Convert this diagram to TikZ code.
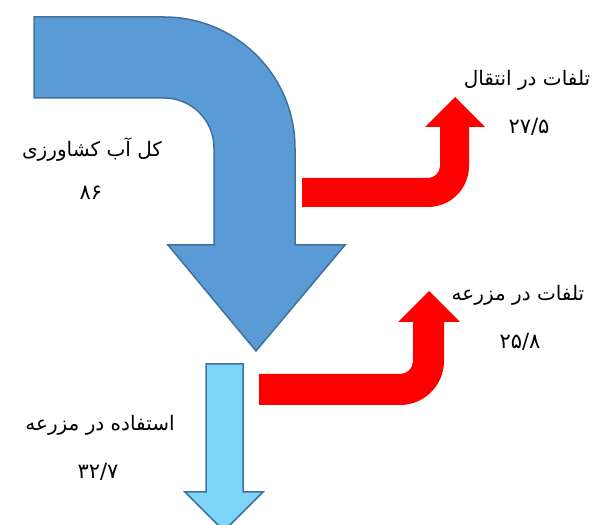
\documentclass[tikz,border=0pt]{standalone}
\usepackage{fontspec}
\TeXXeTstate=1
\newfontfamily\arabicfont[Script=Arabic]{DejaVu Sans}
\newfontfamily\numfont{DejaVu Sans}
\definecolor{flowblue}{HTML}{5B9BD5}
\definecolor{edgeblue}{HTML}{41719C}
\definecolor{useblue}{HTML}{7DD5F7}

\tikzset{
  mainflow/.style={fill=flowblue, draw=edgeblue, line width=1.5pt, line join=miter},
  useflow/.style={fill=useblue, draw=edgeblue, line width=1.5pt},
  lossflow/.style={fill=red},
  fa/.style={font=\arabicfont\fontsize{20}{24}\selectfont},
  num/.style={font=\numfont\fontsize{21}{24}\selectfont}
}

\begin{document}
\begin{tikzpicture}[x=1pt, y=1pt]

\useasboundingbox (0,0) rectangle (592,525);

\draw[mainflow] (34,508) -- (164,508) arc[start angle=90, end angle=0, radius=131pt]
  -- (295,280) -- (345,280) -- (256,174) -- (168,280) -- (214,280) -- (214,377)
  arc[start angle=0, end angle=90, radius=50pt] -- (34,427) -- cycle;

\fill[lossflow] (302,318) -- (428,318) arc[start angle=-90, end angle=0, radius=41pt]
  -- (469,398) -- (485,398) -- (455,428) -- (425,398) -- (440,398) -- (440,359)
  arc[start angle=0, end angle=-90, radius=12pt] -- (302,347) -- cycle;

\fill[lossflow] (259,120) -- (400,120) arc[start angle=-90, end angle=0, radius=44pt]
  -- (444,203) -- (460,203) -- (429,234) -- (398,203) -- (413,203) -- (413,164)
  arc[start angle=0, end angle=-90, radius=13pt] -- (259,151) -- cycle;

\draw[useflow] (206,161) -- (243,161) -- (243,33) -- (263,33) -- (224,-6)
  -- (185,33) -- (206,33) -- cycle;

\node (total) at (92,375) [fa] {\beginR کل آب کشاورزی\endR};
\node (totalnum) at (91,332) [num] {۸۶};
\node (transit) at (527,445) [fa] {\beginR تلفات در انتقال\endR};
\node (transitnum) at (529,398) [num] {۲۷/۵};
\node (farmloss) at (518,230) [fa] {\beginR تلفات در مزرعه\endR};
\node (farmlossnum) at (520,183) [num] {۲۵/۸};
\node (farmuse) at (100,100) [fa] {\beginR استفاده در مزرعه\endR};
\node (farmusenum) at (98,53) [num] {۳۲/۷};

\end{tikzpicture}
\end{document}
